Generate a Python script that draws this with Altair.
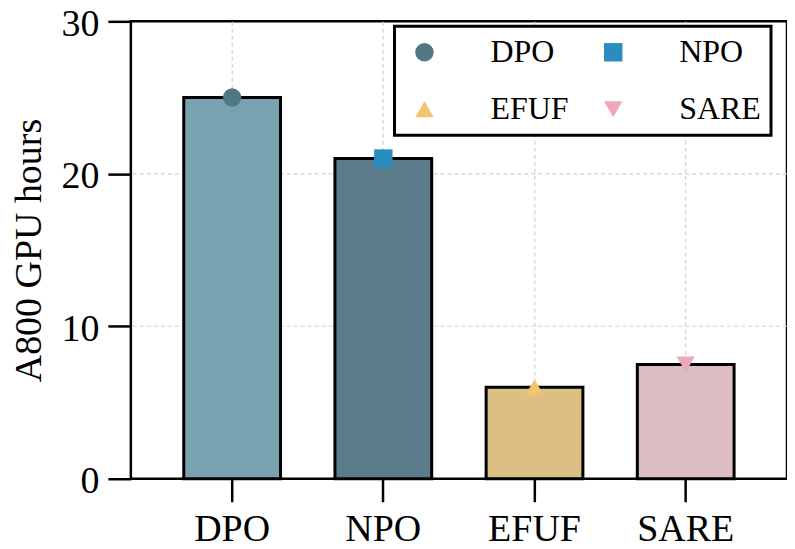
import altair as alt
import pandas as pd

methods = ["DPO", "NPO", "EFUF", "SARE"]
hours = [25, 21, 6, 7.5]
bar_colors = ["#78a2af", "#5a7c8a", "#dbbf85", "#dbbdc3"]
marker_colors = ["#4f7784", "#2b8dbe", "#f2c46e", "#efa8b8"]
marker_shapes = ["circle", "square", "triangle-up", "triangle-down"]
y_ticks = [0, 10, 20, 30]
y_grid = [10, 20]

df = pd.DataFrame({"method": methods, "bar_color": bar_colors, "hours": hours})
grid_df = pd.DataFrame({"g": y_grid})

FONT = "Liberation Serif"

x_enc = alt.X(
    "method:N",
    sort=methods,
    scale=alt.Scale(domain=methods, paddingInner=0.36, paddingOuter=0.35),
    axis=alt.Axis(
        title=None, labelAngle=0, grid=True, bandPosition=0.5,
        gridColor="#cfcfcf", gridDash=[4, 3], gridWidth=1.2,
        domain=False, ticks=True, tickSize=23, tickWidth=2.5, tickColor="black",
        labelFont=FONT, labelFontSize=38, labelColor="black", labelPadding=9,
    ),
)
y_enc = alt.Y(
    "hours:Q",
    scale=alt.Scale(domain=[0, 30], nice=False, zero=True),
    axis=alt.Axis(
        title="A800 GPU hours", values=y_ticks, grid=False,
        domain=False, tickSize=23, tickWidth=2.5, tickColor="black",
        labelFont=FONT, labelFontSize=38, labelColor="black", labelPadding=9,
        labelOffset=3,
        titleFont=FONT, titleFontSize=38, titleFontWeight="normal",
        titleColor="black", titlePadding=12,
    ),
)

grid = alt.Chart(grid_df).mark_rule(color="#cfcfcf", strokeDash=[4, 3], strokeWidth=1.2).encode(
    y=alt.Y("g:Q", scale=alt.Scale(domain=[0, 30], nice=False)),
)

bars = alt.Chart(df).mark_bar(stroke="black", strokeWidth=3).encode(
    x=x_enc,
    y=y_enc,
    fill=alt.Fill("bar_color:N", scale=None, legend=None),
)

legend = alt.Legend(
    title=None, orient="none", legendX=264, legendY=5, columns=2,
    direction="horizontal",
    strokeColor="black", fillColor="white", padding=10,
    labelFont=FONT, labelFontSize=32, labelColor="black", labelOffset=50,
    labelExpr="datum.index % 2 == 1 ? datum.label + '\u00a0\u00a0\u00a0\u00a0\u00a0\u00a0\u00a0\u00a0\u00a0' : datum.label + '\u00a0\u00a0'",
    symbolSize=340, symbolStrokeWidth=0, symbolOffset=4,
    columnPadding=24, rowPadding=25, symbolOpacity=1,
)

points = alt.Chart(df).mark_point(filled=True, size=340, opacity=1).encode(
    x=alt.X("method:N", sort=methods),
    y=alt.Y("hours:Q"),
    color=alt.Color("method:N", scale=alt.Scale(domain=methods, range=marker_colors), legend=legend),
    shape=alt.Shape("method:N", scale=alt.Scale(domain=methods, range=marker_shapes), legend=legend),
)

chart = (
    alt.layer(grid, bars, points)
    .properties(
        width=657, height=458,
        autosize=alt.AutoSizeParams(type="none"),
        padding={"left": 123, "top": 13, "right": 0, "bottom": 70},
    )
    .configure_view(stroke="black", strokeWidth=2.5)
    .configure_legend(strokeWidth=3)
)

chart.save("out.html", embed_options={"renderer": "svg", "actions": False})
